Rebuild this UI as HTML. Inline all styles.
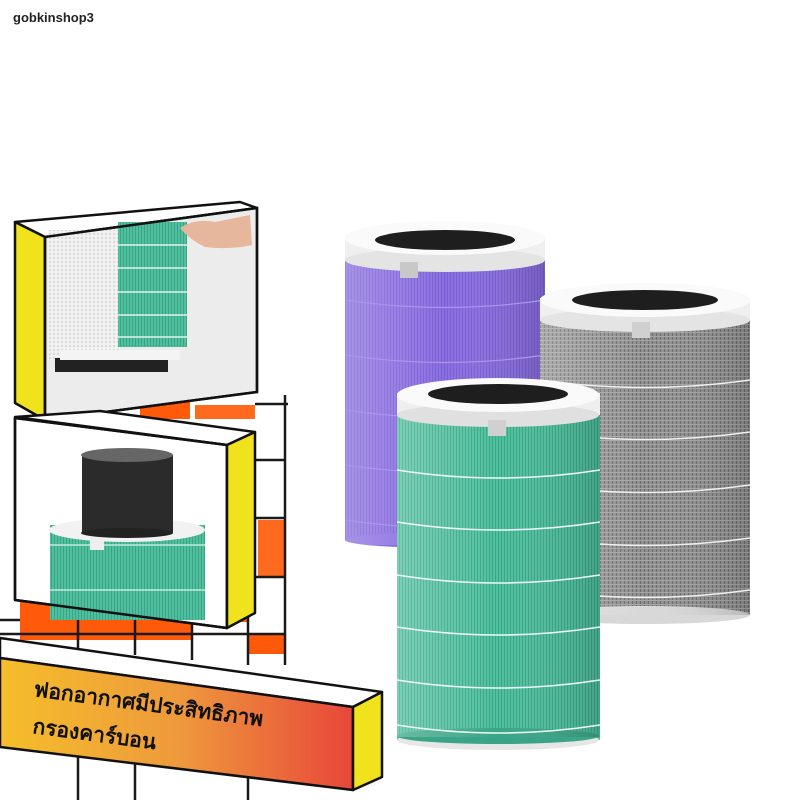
<!DOCTYPE html>
<html><head><meta charset="utf-8"><style>
html,body{margin:0;padding:0;background:#fff;}
svg{display:block}
</style></head><body>
<svg width="800" height="800" viewBox="0 0 800 800" xmlns="http://www.w3.org/2000/svg">
<defs>
<pattern id="pp" width="3" height="10" patternUnits="userSpaceOnUse"><rect width="3" height="10" fill="#8a6fe0"/><rect width="1" height="10" fill="#7a5ed4"/></pattern>
<pattern id="pg" width="3" height="10" patternUnits="userSpaceOnUse"><rect width="3" height="10" fill="#4fbf9e"/><rect width="1" height="10" fill="#3aa586"/></pattern>
<pattern id="pgr" width="4" height="4" patternUnits="userSpaceOnUse"><rect width="4" height="4" fill="#8f8f8f"/><rect width="1" height="4" fill="#6c6c6c"/><rect width="4" height="1" fill="#a5a5a5"/></pattern>
<linearGradient id="shadeP" x1="0" x2="1"><stop offset="0" stop-color="#fff" stop-opacity=".25"/><stop offset=".5" stop-color="#fff" stop-opacity="0"/><stop offset="1" stop-color="#000" stop-opacity=".15"/></linearGradient>
<linearGradient id="ban" x1="0" x2="1"><stop offset="0" stop-color="#f5be2a"/><stop offset=".5" stop-color="#ee9a3c"/><stop offset="1" stop-color="#e8473a"/></linearGradient>
<pattern id="dots" width="4" height="4" patternUnits="userSpaceOnUse"><rect width="4" height="4" fill="#f2f2f2"/><circle cx="2" cy="2" r=".8" fill="#bbb"/></pattern>
</defs>

<text x="13" y="22" font-family="Liberation Sans, sans-serif" font-weight="bold" font-size="13" fill="#222">gobkinshop3</text>

<g fill="#ff5a0a">
<rect x="20" y="602" width="58" height="38"/><rect x="78" y="602" width="57" height="38"/><rect x="135" y="602" width="57" height="38"/><rect x="192" y="602" width="56" height="20"/>
<rect x="248" y="634" width="37" height="20"/>
<rect x="258" y="520" width="27" height="57" fill="#ff6a1e"/>
<rect x="195" y="405" width="60" height="14" fill="#ff6a1e"/>
<rect x="140" y="395" width="50" height="24"/>
</g>
<g stroke="#1a1a1a" stroke-width="2.5" fill="none">
<line x1="285" y1="395" x2="285" y2="665"/>
<line x1="255" y1="404" x2="288" y2="404"/>
<line x1="255" y1="460" x2="286" y2="460"/>
<line x1="255" y1="518" x2="286" y2="518"/>
<line x1="255" y1="577" x2="286" y2="577"/>
<line x1="0" y1="634" x2="286" y2="634"/>
<line x1="78" y1="602" x2="78" y2="650"/>
<line x1="135" y1="602" x2="135" y2="655"/>
<line x1="192" y1="602" x2="192" y2="660"/>
<line x1="248" y1="615" x2="248" y2="665"/>
<line x1="78" y1="745" x2="78" y2="800"/>
<line x1="135" y1="755" x2="135" y2="800"/>
<line x1="248" y1="772" x2="248" y2="800"/>
<line x1="0" y1="620" x2="20" y2="620"/>
</g>

<g stroke="#111" stroke-width="2.5" stroke-linejoin="round">
<polygon points="15,222 240,202 257,208 45,237" fill="#fff"/>
<polygon points="15,222 45,237 45,420 15,403" fill="#f0e21c"/>
<polygon points="45,237 257,208 257,392 45,420" fill="#ececec"/>
</g>
<rect x="48" y="230" width="72" height="130" fill="url(#dots)"/>
<rect x="55" y="358" width="113" height="14" fill="#222"/>
<rect x="60" y="350" width="120" height="10" fill="#f4f4f4"/>
<rect x="118" y="222" width="69" height="125" fill="url(#pg)"/>
<g stroke="#fff" stroke-width="1.2"><line x1="118" y1="245" x2="187" y2="245"/><line x1="118" y1="268" x2="187" y2="268"/><line x1="118" y1="292" x2="187" y2="292"/><line x1="118" y1="315" x2="187" y2="315"/><line x1="118" y1="337" x2="187" y2="337"/></g>
<path d="M180,228 Q195,218 215,222 L250,215 L252,245 Q230,250 205,247 Q190,240 180,228Z" fill="#e6b79c"/>
<polygon points="45,237 257,208 257,392 45,420" fill="none" stroke="#111" stroke-width="2.5"/>

<g stroke="#111" stroke-width="2.5" stroke-linejoin="round">
<polygon points="15,417 100,411 255,432 227,445" fill="#fff"/>
<polygon points="15,418 227,445 227,628 15,600" fill="#fff"/>
</g>
<rect x="50" y="525" width="155" height="95" fill="url(#pg)"/>
<ellipse cx="127" cy="530" rx="78" ry="12" fill="#f2f2f2"/>
<g stroke="#d9f4ea" stroke-width="1.2"><line x1="50" y1="545" x2="205" y2="545"/><line x1="50" y1="590" x2="205" y2="590"/></g>
<rect x="90" y="535" width="14" height="15" fill="#eee"/>
<rect x="82" y="455" width="91" height="78" fill="#2b2b2b"/>
<ellipse cx="127" cy="455" rx="46" ry="7" fill="#666"/>
<ellipse cx="127" cy="533" rx="46" ry="5" fill="#222"/>
<g stroke="#111" stroke-width="2.5" stroke-linejoin="round">
<polygon points="15,418 227,445 227,628 15,600" fill="none"/>
<polygon points="227,445 255,432 255,613 227,628" fill="#f0e21c"/>
</g>

<g stroke="#111" stroke-width="2.5" stroke-linejoin="round">
<polygon points="0,638 382,692 353,707 0,658" fill="#fff"/>
<polygon points="0,658 353,707 353,790 0,747" fill="url(#ban)"/>
<polygon points="353,707 382,692 382,777 353,790" fill="#f0e21c"/>
</g>
<g font-family="Liberation Sans, DejaVu Sans, sans-serif" font-size="21" font-weight="bold" fill="#111">
<text transform="translate(33,696) rotate(7.5)">ฟอกอากาศมีประสิทธิภาพ</text>
<text transform="translate(32,733) rotate(7.5)">กรองคาร์บอน</text>
</g>

<rect x="345" y="240" width="200" height="300" fill="url(#pp)"/>
<ellipse cx="445" cy="540" rx="100" ry="8" fill="#8a6fe0"/>
<rect x="345" y="240" width="200" height="305" fill="url(#shadeP)"/>
<g stroke="#a898ec" stroke-width="1.2" fill="none">
<path d="M345,300 Q445,315 545,300"/><path d="M345,355 Q445,370 545,355"/><path d="M345,410 Q445,425 545,410"/><path d="M345,465 Q445,480 545,465"/><path d="M345,520 Q445,535 545,520"/></g>
<rect x="345" y="236" width="200" height="24" fill="#efefef"/>
<ellipse cx="445" cy="260" rx="100" ry="12" fill="#e4e4e4"/>
<ellipse cx="445" cy="238" rx="100" ry="17" fill="#fafafa"/>
<ellipse cx="445" cy="240" rx="70" ry="10" fill="#1e1e1e"/>
<rect x="400" y="262" width="18" height="16" fill="#c8c8c8"/>

<rect x="540" y="300" width="210" height="315" fill="url(#pgr)"/>
<ellipse cx="645" cy="615" rx="105" ry="9" fill="#d8d8d8"/>
<rect x="540" y="300" width="210" height="315" fill="url(#shadeP)"/>
<g stroke="#f0f0f0" stroke-width="1.5" fill="none">
<path d="M540,380 Q645,395 750,380"/><path d="M540,432 Q645,447 750,432"/><path d="M540,485 Q645,500 750,485"/><path d="M540,538 Q645,553 750,538"/><path d="M540,590 Q645,605 750,590"/></g>
<rect x="540" y="298" width="210" height="22" fill="#efefef"/>
<ellipse cx="645" cy="320" rx="105" ry="12" fill="#e4e4e4"/>
<ellipse cx="645" cy="300" rx="105" ry="17" fill="#fafafa"/>
<ellipse cx="645" cy="300" rx="73" ry="10" fill="#1e1e1e"/>
<rect x="632" y="322" width="18" height="16" fill="#d0d0d0"/>

<rect x="397" y="395" width="203" height="345" fill="url(#pg)"/>
<ellipse cx="498" cy="740" rx="101" ry="10" fill="#e6e6e6"/>
<ellipse cx="498" cy="736" rx="101" ry="8" fill="#3aa586"/>
<rect x="397" y="395" width="203" height="342" fill="url(#shadeP)"/>
<g stroke="#eefaf5" stroke-width="1.6" fill="none">
<path d="M397,470 Q498,486 600,470"/><path d="M397,522 Q498,538 600,522"/><path d="M397,575 Q498,591 600,575"/><path d="M397,627 Q498,643 600,627"/><path d="M397,680 Q498,696 600,680"/><path d="M397,725 Q498,741 600,725"/></g>
<rect x="397" y="393" width="203" height="22" fill="#efefef"/>
<ellipse cx="498" cy="415" rx="101" ry="12" fill="#e0e0e0"/>
<ellipse cx="498" cy="395" rx="101" ry="17" fill="#fafafa"/>
<ellipse cx="498" cy="394" rx="70" ry="10" fill="#1e1e1e"/>
<rect x="488" y="420" width="18" height="16" fill="#d0d0d0"/>
</svg>
</body></html>
